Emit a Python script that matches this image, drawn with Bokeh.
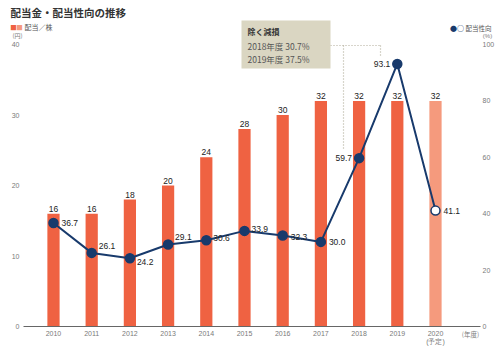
from bokeh.plotting import figure
from bokeh.models import Range1d, LinearAxis, FixedTicker
from bokeh.embed import file_html
from bokeh.resources import INLINE
from bokeh.core.properties import value

# ---- data ----
years = ["2010", "2011", "2012", "2013", "2014", "2015", "2016", "2017", "2018", "2019", "2020"]
year_labels = ["2010", "2011", "2012", "2013", "2014", "2015", "2016", "2017", "2018", "2019", "2020\n(予定)"]
dividend = [16, 16, 18, 20, 24, 28, 30, 32, 32, 32, 32]
payout = [36.7, 26.1, 24.2, 29.1, 30.6, 33.9, 32.3, 30.0, 59.7, 93.1, 41.1]
forecast = [False] * 10 + [True]
left_ticks = [0, 10, 20, 30, 40]
right_ticks = [0, 20, 40, 60, 80, 100]
note_title = "除く減損"
note_lines = ["2018年度 30.7%", "2019年度 37.5%"]

# ---- style ----
BAR = "#EF6242"
BAR_FC = "#F59A7D"
NAVY = "#183A6C"
GRAY = "#7a7a7a"
NUM = value("Liberation Sans")
SANS = "Liberation Sans"
CJK = value("Noto Sans CJK JP")

xs = list(range(len(years)))

X0, X1 = -0.785, 11.178
p = figure(width=501, height=355, output_backend="svg", toolbar_location=None,
           x_range=Range1d(X0, X1), y_range=Range1d(0, 40),
           min_border_left=23, min_border_right=21, min_border_top=44, min_border_bottom=29)
p.extra_y_ranges = {"pct": Range1d(0, 100)}
p.outline_line_color = None
p.grid.grid_line_color = None
p.background_fill_color = "white"
p.border_fill_color = "white"


# pixel helpers for annotations placed around the frame
def px2x(px):
    return X0 + (px - 23) * (X1 - X0) / 457.0


def py2y(py):
    return (326 - py) * 40.0 / 282.0


def style_axis(ax, standoff):
    ax.major_tick_line_color = None
    ax.minor_tick_line_color = None
    ax.major_tick_out = 0
    ax.major_tick_in = 0
    ax.minor_tick_out = 0
    ax.minor_tick_in = 0
    ax.major_label_text_font_size = "7px"
    ax.major_label_text_color = GRAY
    ax.major_label_text_font = SANS
    ax.major_label_standoff = standoff


# axes
xa = p.xaxis[0]
xa.ticker = FixedTicker(ticks=xs)
xa.major_label_overrides = {i: l for i, l in enumerate(year_labels)}
xa.axis_line_color = "#666666"
xa.axis_line_width = 1
style_axis(xa, 3)

ya = p.yaxis[0]
ya.ticker = FixedTicker(ticks=left_ticks)
ya.axis_line_color = None
style_axis(ya, 4)

ra = LinearAxis(y_range_name="pct", ticker=FixedTicker(ticks=right_ticks))
ra.axis_line_color = None
style_axis(ra, 2)
p.add_layout(ra, "right")

# bars
bar_colors = [BAR_FC if f else BAR for f in forecast]
p.vbar(x=xs, top=dividend, width=0.32, fill_color=bar_colors, line_color=None)
p.text(x=xs, y=dividend, text=[str(d) for d in dividend], y_offset=-2,
       text_align="center", text_baseline="bottom", text_font=NUM,
       text_font_size="8.5px", text_color="#222222")

# annotation dotted lines
DOT = "#b0ab98"
p.line(x=[px2x(330), px2x(380)], y=[py2y(45), py2y(45)], line_color=DOT,
       line_dash="1 2", line_width=1.2)
p.line(x=[px2x(343), px2x(343)], y=[py2y(45), py2y(150)], line_color=DOT,
       line_dash="1 2", line_width=1.2)
p.line(x=[px2x(380), px2x(380)], y=[py2y(45), py2y(55)], line_color=DOT,
       line_dash="1 2", line_width=1.2)

# payout line
p.line(x=xs, y=payout, y_range_name="pct", line_color=NAVY, line_width=2)
p.scatter(x=xs, y=payout, y_range_name="pct", size=9,
          fill_color=["white" if f else NAVY for f in forecast],
          line_color=NAVY, line_width=1.5)
dx = [8, 7, 7, 7, 7, 7, 8, 8, -7, -7, 8]
dy = [0, -7, 4, -7, -2, -2, 2, 0, 0, 0, 0]
al = ["left"] * 8 + ["right", "right", "left"]
p.text(x=xs, y=payout, y_range_name="pct", text=[f"{v:.1f}" for v in payout],
       x_offset=dx, y_offset=dy, text_align=al, text_baseline="middle",
       text_font=NUM, text_font_size="8.5px", text_color="#222222")

# note box (drawn above frame edge)
box = p.quad(left=[px2x(241)], right=[px2x(330)], top=[py2y(20)], bottom=[py2y(68)],
             fill_color="#DAD6C2", line_color=None)
box.level = "overlay"


def over_text(px, py, txt, size, color, bold=False, align="left", font=CJK):
    r = p.text(x=[px2x(px)], y=[py2y(py)], text=[txt], text_font=font,
               text_font_size=size, text_font_style="bold" if bold else "normal",
               text_color=color, text_baseline="middle", text_align=align)
    r.level = "overlay"
    return r


over_text(247, 31, note_title, "8px", "#333333", bold=True)
over_text(247, 45, note_lines[0], "8.5px", "#555555")
over_text(247, 58, note_lines[1], "8.5px", "#555555")

# title and legends
over_text(10, 12, "配当金・配当性向の推移", "10.5px", "#333333", bold=True)
over_text(13, 26, "■", "6.5px", BAR, align="center", font=CJK)
over_text(19, 26, "■", "6.5px", BAR_FC, align="center", font=CJK)
over_text(24, 26, "配当／株", "7px", "#555555")
over_text(12, 35, "(円)", "6px", GRAY)
over_text(453, 27, "●", "7px", NAVY, align="center", font=CJK)
over_text(460, 27, "○", "7px", NAVY, bold=True, align="center", font=CJK)
over_text(465, 27, "配当性向", "6.5px", "#555555")
over_text(487, 35, "(%)", "6px", GRAY, align="center", font=NUM)
over_text(470, 333, "(年度)", "6.5px", GRAY, align="center")

open("out.html", "w").write(file_html(p, INLINE))
